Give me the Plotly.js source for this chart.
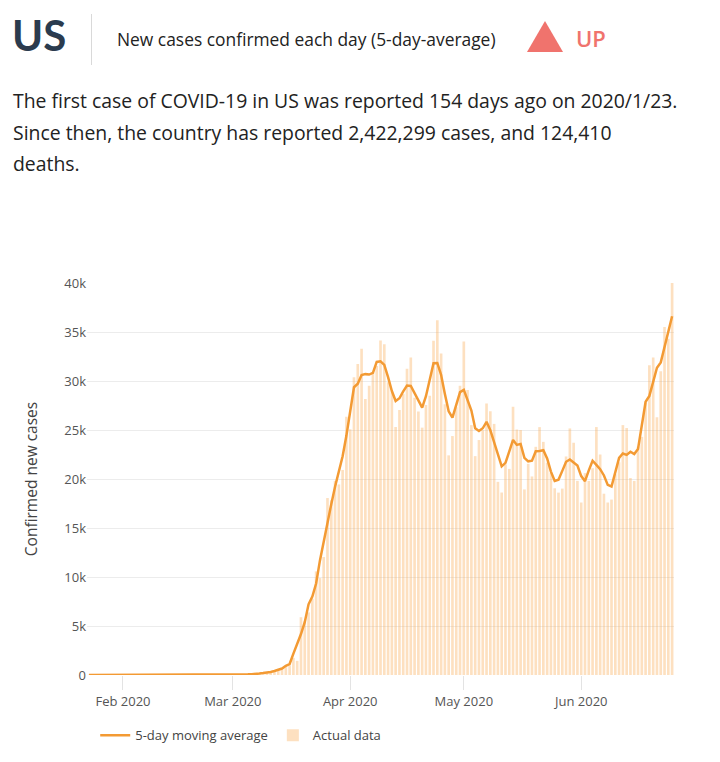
<!DOCTYPE html>
<html>
<head>
<meta charset="utf-8">
<script src="https://cdn.plot.ly/plotly-3.0.1.min.js"></script>
<style>
  html, body { margin:0; padding:0; background:#fff; }
  body { width:720px; height:762px; position:relative; overflow:hidden; font-family:"Open Sans", sans-serif; }
  #chart { position:absolute; left:0; top:0; width:720px; height:762px; }
  #header { position:absolute; left:0; top:0; width:720px; height:200px; z-index:5; pointer-events:none; }
  .us { position:absolute; left:12px; top:10px; font-family:Lato, "Open Sans", sans-serif; font-weight:700; font-size:42px; color:#2b3b4e; line-height:50px; }
  .divider { position:absolute; left:91px; top:14px; width:1px; height:51px; background:#d9d9d9; }
  .sub { position:absolute; left:117px; top:28px; font-size:17.4px; color:#222; line-height:22px; white-space:nowrap; }
  .tri { position:absolute; left:527px; top:21px; width:0; height:0; border-left:18px solid transparent; border-right:18px solid transparent; border-bottom:31px solid #f0736d; }
  .up { position:absolute; left:576px; top:24px; font-size:22px; font-weight:600; color:#f0736d; line-height:28px; }
  .para { position:absolute; left:13px; top:85px; font-size:19.4px; color:#222; line-height:31.5px; white-space:nowrap; }
</style>
</head>
<body>
<div id="chart"></div>
<div id="header">
  <div class="us">US</div>
  <div class="divider"></div>
  <div class="sub">New cases confirmed each day (5-day-average)</div>
  <div class="tri"></div>
  <div class="up">UP</div>
  <div class="para">The first case of COVID-19 in US was reported 154 days ago on 2020/1/23.<br>Since then, the country has reported 2,422,299 cases, and 124,410<br>deaths.</div>
</div>
<script>
// first date of the series (one value per day from here)
const firstDate = '2020-01-23';

// Actual daily new cases, 2020-01-23 .. 2020-06-25
const casesJan = [1, 1, 0, 3, 0, 0, 1, 0, 2];
const casesFeb = [1, 0, 3, 0, 0, 1, 0, 0, 0, 0, 1, 0, 1, 0, 0, 0, 0, 0, 0, 0, 2, 0, 0, 36, 0, 0, 1, 8, 6];
const casesMar = [7, 23, 19, 33, 77, 53, 166, 116, 75, 300, 307, 329, 553, 587, 843, 983, 1748, 1442, 5894, 5421,
                  6392, 7783, 10571, 9893, 12038, 18058, 17821, 19808, 19444, 20922, 26341];
const casesApr = [25070, 30380, 31745, 33283, 28152, 29515, 30804, 31533, 34126, 33755, 29861, 28917, 25306, 27051, 28680,
                  31242, 32400, 28300, 26889, 25240, 27539, 28486, 34100, 36188, 32796, 27631, 22412, 24385, 27327, 29515];
const casesMay = [34037, 29078, 25501, 22335, 23976, 24980, 27692, 26906, 25621, 19710, 18621, 21495, 21030, 27368, 25050,
                  24996, 18937, 21551, 20260, 23285, 25294, 23790, 21675, 20634, 19056, 18611, 19020, 22300, 25161, 23700, 19807];
const casesJun = [17600, 20600, 19800, 21100, 25300, 22500, 18500, 17600, 17900, 20500, 21700, 25500, 25200, 20100, 19800,
                  23300, 24300, 27800, 31600, 32400, 26300, 31000, 35500, 34300, 40000];

// 5-day moving average line, same dates
const avgJan = [0.7, 1.3, 1.0, 0.8, 0.8, 0.8, 0.6, 0.8, 0.8];
const avgFeb = [1.2, 1.2, 0.8, 0.8, 0.8, 0.2, 0.2, 0.2, 0.2, 0.2, 0.4, 0.4, 0.4, 0.2, 0.2, 0, 0, 0, 0.4, 0.4, 0.4, 7.6, 7.6, 7.2, 7.4, 9.0, 3.0, 4.4, 9.0];
const avgMar = [12.6, 17.6, 31.8, 41, 69.6, 89, 97.4, 142, 192.8, 225.4, 312.8, 415.2, 523.8, 659, 942.8, 1120.6, 2182, 3097.6, 4179.4, 5386.4,
                7212.2, 8012, 9335.4, 11668.6, 13676.2, 15523.6, 17433.8, 19210.6, 20867.2, 22317, 24431.4];
const avgApr = [26891.6, 29363.8, 29726, 30615, 30699.8, 30657.4, 30826, 31946.6, 32015.8, 31638.4, 30393, 28978, 27963, 28239.2, 28935.8,
                29534.6, 29502.2, 28814.2, 28073.6, 27290.8, 28450.8, 30310.6, 31821.8, 31840.2, 30625.4, 28682.4, 26910.2, 26254, 27535.2, 28868.4];
const avgMay = [29091.6, 28093.2, 26985.4, 25174, 24896.8, 25177.8, 25835, 24981.8, 23710, 22470.6, 21295.4, 21644.8, 22712.8, 23987.8, 23476.2,
                23580.4, 22158.8, 21805.8, 21865.4, 22836, 22860.8, 22935.6, 22089.8, 20753.2, 19799.2, 19924.2, 20829.6, 21758.4, 21997.6, 21713.6, 21373.6];
const avgJun = [20301.4, 19781.4, 20880, 21860, 21440, 21000, 20360, 19400, 19240, 20640, 22160, 22600, 22460, 22780, 22540,
                23060, 25360, 27880, 28480, 29820, 31360, 31900, 33420, 35200, 36600];

// axis ticks
const xTickVals = ['2020-02-01', '2020-03-01', '2020-04-01', '2020-05-01', '2020-06-01'];
const yTickVals = [0, 5000, 10000, 15000, 20000, 25000, 30000, 35000, 40000];
const yTickText = ['0', '5k', '10k', '15k', '20k', '25k', '30k', '35k', '40k'];

const cases = [].concat(casesJan, casesFeb, casesMar, casesApr, casesMay, casesJun);
const avg = [].concat(avgJan, avgFeb, avgMar, avgApr, avgMay, avgJun);

const dates = [];
const d0 = new Date(firstDate + 'T00:00:00Z');
for (let i = 0; i < cases.length; i++) {
  const d = new Date(d0.getTime() + i * 86400000);
  dates.push(d.toISOString().slice(0, 10));
}

const font = 'Open Sans, sans-serif';

const traces = [
  {
    type: 'bar', x: dates, y: cases, name: 'Actual data',
    marker: { color: 'rgba(250,178,97,0.4)', line: { width: 0 } },
    legendrank: 2, hoverinfo: 'skip'
  },
  {
    type: 'scatter', mode: 'lines', x: dates, y: avg, name: '5-day moving average',
    line: { color: '#f39a33', width: 2.5 },
    legendrank: 1, hoverinfo: 'skip'
  }
];

const layout = {
  width: 720, height: 762,
  margin: { l: 87, r: 46, t: 283, b: 84 },
  paper_bgcolor: '#fff', plot_bgcolor: '#fff',
  font: { family: font, color: '#555' },
  bargap: 0.3,
  xaxis: {
    type: 'date',
    range: ['2020-01-22 12:00', '2020-06-25 12:00'],
    tickmode: 'array', tickvals: xTickVals, tickformat: '%b %Y',
    ticks: 'outside', ticklen: 14, tickcolor: '#e3e3e3', tickwidth: 1,
    showgrid: false, zeroline: false, showline: false,
    tickfont: { family: font, size: 13, color: '#555' }
  },
  yaxis: {
    range: [0, 40000],
    tickmode: 'array', tickvals: yTickVals, ticktext: yTickText,
    showgrid: true, gridcolor: '#ececec', gridwidth: 1,
    zeroline: false, showline: false,
    tickfont: { family: font, size: 13, color: '#555' },
    title: { text: 'Confirmed new cases', font: { family: font, size: 15.5, color: '#444' }, standoff: 22 }
  },
  showlegend: true,
  legend: {
    orientation: 'h', x: 0.014, xanchor: 'left', y: -0.154, yanchor: 'middle',
    font: { family: font, size: 13, color: '#444' },
    bgcolor: 'rgba(0,0,0,0)'
  }
};

Plotly.newPlot('chart', traces, layout, { staticPlot: true, displayModeBar: false });
</script>
</body>
</html>
